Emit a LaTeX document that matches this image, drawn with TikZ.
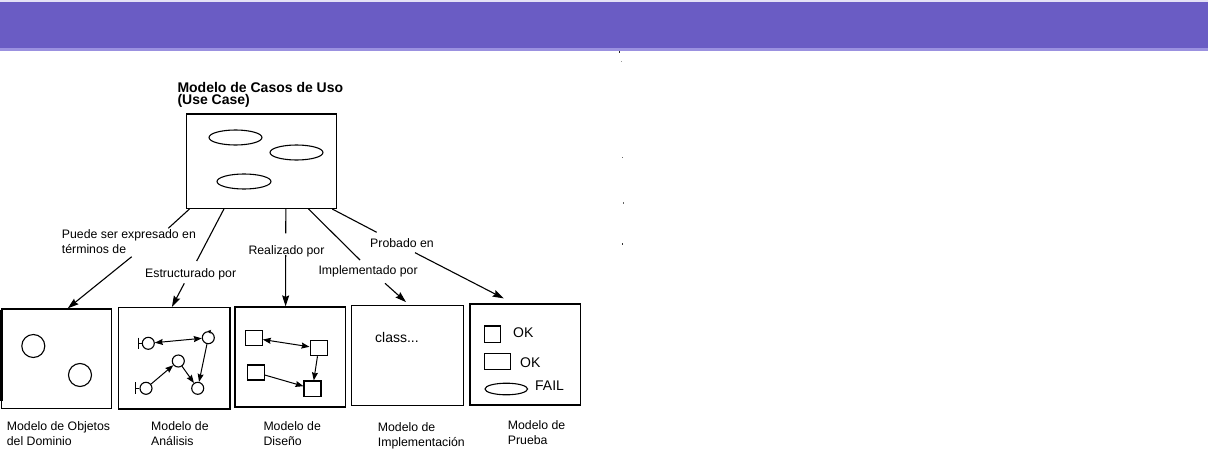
\documentclass[tikz,border=0pt]{standalone}
\usepackage{fontspec}
\setmainfont{Liberation Sans}
\usetikzlibrary{arrows.meta,calc,shapes.geometric}
\definecolor{banner}{HTML}{6A5CC4}
\definecolor{bannerlt}{HTML}{9B91E0}
\definecolor{bannertop}{HTML}{E4E1F6}
\begin{document}
\begin{tikzpicture}[x=1pt,y=-1pt,
  mbox/.style={draw=black, line width=1.2pt, inner sep=0pt},
  txt/.style={font=\fontsize{12.3}{15}\selectfont, inner sep=0pt, align=left, anchor=north west},
  word/.style={font=\fontsize{14}{16}\selectfont, inner sep=0pt, anchor=west},
  conn/.style={line width=1.1pt},
  arr/.style={line width=1.1pt, -{Stealth[length=11pt,width=7pt,inset=1.5pt]}},
  sarr/.style={line width=1pt, -{Stealth[length=8pt,width=6pt,inset=1pt]}},
  dsarr/.style={line width=1pt, {Stealth[length=8pt,width=6pt,inset=1pt]}-{Stealth[length=8pt,width=6pt,inset=1pt]}},
  ucell/.style={draw, ellipse, line width=1.1pt, inner sep=0pt, minimum width=53pt, minimum height=15pt},
  obj/.style={draw, circle, line width=1.1pt, inner sep=0pt, minimum size=#1},
  sq/.style={draw, rectangle, line width=1.1pt, inner sep=0pt},
  ln/.style={line width=1.1pt}
]
\useasboundingbox (0,0) rectangle (1208,460);
\fill[white] (0,0) rectangle (1208,460);
% banner
\fill[bannertop] (0,0) rectangle (1208,1.8);
\fill[banner] (0,1.7) rectangle (1208,48.3);
\fill[bannerlt] (0,48.3) rectangle (1208,50.7);
% specks
\fill[black!85] (618.8,50.8) rectangle ++(1.6,2.4);
\fill[black!40] (620.8,61) rectangle ++(1,1.2);
\fill[black!60] (621.8,157) rectangle ++(1,1.4);
\fill[black!60] (622.8,202) rectangle ++(1,1.6);
\fill[black!80] (621.8,242.7) rectangle ++(1.2,2);

% title and use case model
\node[font=\fontsize{14}{12}\selectfont\bfseries, inner sep=0pt, align=left, anchor=north west] (title) at (177.3,82.3) {Modelo de Casos de Uso\\(Use Case)};
\node[mbox, minimum width=150pt, minimum height=94.5pt] (uc) at (261.7,161.2) {};
\node[ucell] (u1) at (235.5,137.5) {};
\node[ucell] (u2) at (296.5,152.5) {};
\node[ucell, minimum width=54pt] (u3) at (244,181.5) {};

% bottom models
\node[mbox, minimum width=110pt, minimum height=99.5pt] (dom) at (56.6,358.7) {};
\node[mbox, minimum width=111.7pt, minimum height=101.5pt] (ana) at (174.2,358.2) {};
\node[mbox, minimum width=110.5pt, minimum height=100pt] (dis) at (290.2,357) {};
\node[mbox, minimum width=111.6pt, minimum height=100pt] (imp) at (407.5,355.7) {};
\node[mbox, minimum width=110.7pt, minimum height=101pt] (pru) at (525.3,354.5) {};
\draw[line width=2.4pt] ($(dom.north west)+(0.6,2)$) -- ($(dom.south west)+(0.6,-8)$);

% bottom captions
\node[txt] (ldom) at (6.7,421.5) {Modelo de Objetos\\del Dominio};
\node[txt] (lana) at (151,421.5) {Modelo de\\Análisis};
\node[txt] (ldis) at (263.3,421.5) {Modelo de\\Diseño};
\node[txt] (limp) at (377.7,422.5) {Modelo de\\Implementación};
\node[txt] (lpru) at (507.7,420.5) {Modelo de\\Prueba};

% connector labels
\node[txt] (l1) at (61.7,229.8) {Puede ser expresado en\\términos de};
\node[txt] (l2) at (145,268.2) {Estructurado por};
\node[txt] (l3) at (248.3,245.5) {Realizado por};
\node[txt] (l4) at (318.3,265.5) {Implementado por};
\node[txt] (l5) at (370,238.8) {Probado en};

% connectors
\coordinate (a1) at (168.3,228.3);
\coordinate (b1) at (131.7,256.7);
\draw[conn] ($(uc.south west)!0.022!(uc.south east)$) -- (a1);
\draw[arr] (b1) -- ($(dom.north west)!0.6!(dom.north east)$);

\coordinate (a2) at (196.7,261);
\coordinate (b2) at (184.3,283.3);
\draw[conn] ($(uc.south west)!0.25!(uc.south east)$) -- (a2);
\draw[arr] (b2) -- ($(ana.north west)!0.48!(ana.north east)$);

\coordinate (a3) at (285.7,233.3);
\coordinate (b3) at (285.7,255);
\draw[conn] ($(uc.south west)!0.66!(uc.south east)$) -- (a3);
\draw[arr] (b3) -- ($(dis.north west)!0.459!(dis.north east)$);

\coordinate (a4) at (360,260);
\coordinate (b4) at (385,283.3);
\draw[conn] ($(uc.south west)!0.81!(uc.south east)$) -- (a4);
\draw[arr] (b4) -- ($(imp.north west)!0.487!(imp.north east)+(0,-3)$);

\coordinate (a5) at (376.7,232.3);
\coordinate (b5) at (415,252.7);
\draw[conn] ($(uc.south west)!0.967!(uc.south east)$) -- (a5);
\draw[arr] (b5) -- ($(pru.north west)!0.307!(pru.north east)+(0,-5)$);

% domain objects
\node[obj=23pt] (o1) at (33.3,346) {};
\node[obj=23pt] (o2) at (80,375) {};

% analysis model
\node[obj=12pt] (ca) at (148.3,343.3) {};
\node[obj=12pt] (cb) at (208.3,337.7) {};
\node[obj=12pt] (cc) at (178.3,361) {};
\node[obj=12pt] (cd) at (146,388.3) {};
\node[obj=12pt] (ce) at (197.7,388.3) {};
\draw[ln] (ca.west) -- ++(-3.4,0) ++(0,-5.8) -- ++(0,11.6);
\draw[ln] (cd.west) -- ++(-4,0) ++(0,-6) -- ++(0,12);
\draw[line width=0.8pt, -{Stealth[length=3.5pt,width=4pt]}] ($(cb.north)+(2.5,0.6)$) -- ($(cb.north)+(-0.8,0)$);
\draw[dsarr] (ca) -- (cb);
\draw[sarr] (cb) -- (ce);
\draw[sarr] (cd) -- (cc);
\draw[sarr] (cc) -- (ce);

% design model
\node[sq, minimum width=16.6pt, minimum height=15pt] (sa) at (254,338.2) {};
\node[sq, minimum width=17.3pt, minimum height=15pt] (sb) at (318.7,348.2) {};
\node[sq, minimum width=16.6pt, minimum height=15pt] (sc) at (256,372.5) {};
\node[sq, minimum width=17pt, minimum height=15.7pt] (sd) at (312.5,388.8) {};
\draw[dsarr] (sa) -- (sb);
\draw[sarr] (sb) -- (sd);
\draw[sarr] (sc) -- (sd);

% implementation model
\node[word] (cls) at (375,337.7) {class...};

% test model
\node[sq, minimum width=15.7pt, minimum height=16.7pt] (t1) at (492.2,334.3) {};
\node[sq, minimum width=25.7pt, minimum height=15.7pt] (t2) at (497.2,361.2) {};
\node[draw, ellipse, line width=1.1pt, inner sep=0pt, minimum width=42.6pt, minimum height=11.6pt] (t3) at (506.3,389) {};
\node[word] (ok1) at (513,332.7) {OK};
\node[word] (ok2) at (520,362.7) {OK};
\node[word] (fail) at (535,385.7) {FAIL};
\end{tikzpicture}
\end{document}
